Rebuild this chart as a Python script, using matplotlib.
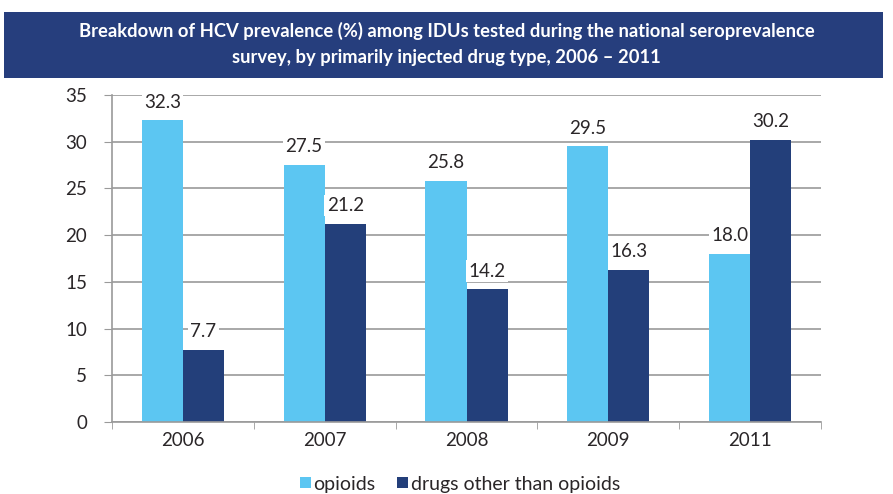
import matplotlib
matplotlib.use("Agg")
import matplotlib.pyplot as plt
from matplotlib.patches import Rectangle
import numpy as np

years = ["2006", "2007", "2008", "2009", "2011"]
opioids = [32.3, 27.5, 25.8, 29.5, 18.0]
other_drugs = [7.7, 21.2, 14.2, 16.3, 30.2]
series_names = ["opioids", "drugs other than opioids"]
title_lines = ["Breakdown of HCV prevalence (%) among IDUs tested during the national seroprevalence",
               "survey, by primarily injected drug type, 2006 \u2013 2011"]

light_blue = "#5cc6f2"
dark_blue = "#233f7a"
header_blue = "#263e7d"
grid_gray = "#9a9a9a"
text_color = "#2a2628"

plt.rcParams["font.family"] = ["Lato", "DejaVu Sans"]

fig = plt.figure(figsize=(8.93, 4.94), dpi=100)

# header band with title
fig.patches.append(Rectangle((4 / 893, 1 - 78 / 494), 879 / 893, 66 / 494,
                             transform=fig.transFigure, facecolor=header_blue,
                             edgecolor="none", zorder=0))
fig.text(0.5, 1 - 31 / 494, title_lines[0], ha="center", va="center",
         color="white", fontsize=13.2, fontweight="bold")
fig.text(0.5, 1 - 58 / 494, title_lines[1], ha="center", va="center",
         color="white", fontsize=13.2, fontweight="bold")

ax = fig.add_axes([112 / 893, 1 - 422 / 494, 709 / 893, 327 / 494])

x = np.arange(len(years))
w = 0.29
b1 = ax.bar(x - w / 2, opioids, w, color=light_blue, label=series_names[0], zorder=2)
b2 = ax.bar(x + w / 2, other_drugs, w, color=dark_blue, label=series_names[1], zorder=2)

for bars, vals in ((b1, opioids), (b2, other_drugs)):
    for r, v in zip(bars, vals):
        ax.annotate(f"{v:.1f}", (r.get_x() + r.get_width() / 2, v),
                    xytext=(0, 7), textcoords="offset points",
                    ha="center", va="bottom", fontsize=13.5, color=text_color,
                    bbox=dict(boxstyle="square,pad=0.12", facecolor="white",
                              edgecolor="none"), zorder=4)

ax.set_ylim(0, 35)
ax.set_yticks(range(0, 36, 5))
ax.set_xlim(-0.5, len(years) - 0.5)
ax.set_xticks(x)
ax.set_xticklabels(years)
ax.set_xticks(np.arange(-0.5, len(years), 1.0), minor=True)
ax.tick_params(axis="x", which="major", length=0, pad=7, labelsize=13.5, labelcolor=text_color)
ax.tick_params(axis="x", which="minor", length=5, color=grid_gray, direction="out")
ax.tick_params(axis="y", length=6, color=grid_gray, direction="out", pad=12,
               labelsize=13.5, labelcolor=text_color)

ax.yaxis.grid(True, color=grid_gray, linewidth=1.2, zorder=0)
ax.set_axisbelow(True)
for s in ("top", "right"):
    ax.spines[s].set_visible(False)
for s in ("left", "bottom"):
    ax.spines[s].set_color(grid_gray)
    ax.spines[s].set_linewidth(1.2)

leg = fig.legend(loc="center", bbox_to_anchor=(460 / 893, 1 - 484 / 494), ncol=2,
                 frameon=False, fontsize=14, handlelength=0.55, handleheight=0.55,
                 handletextpad=0.15, columnspacing=1.1)
for t in leg.get_texts():
    t.set_color(text_color)

fig.savefig("out.png", dpi=100)
